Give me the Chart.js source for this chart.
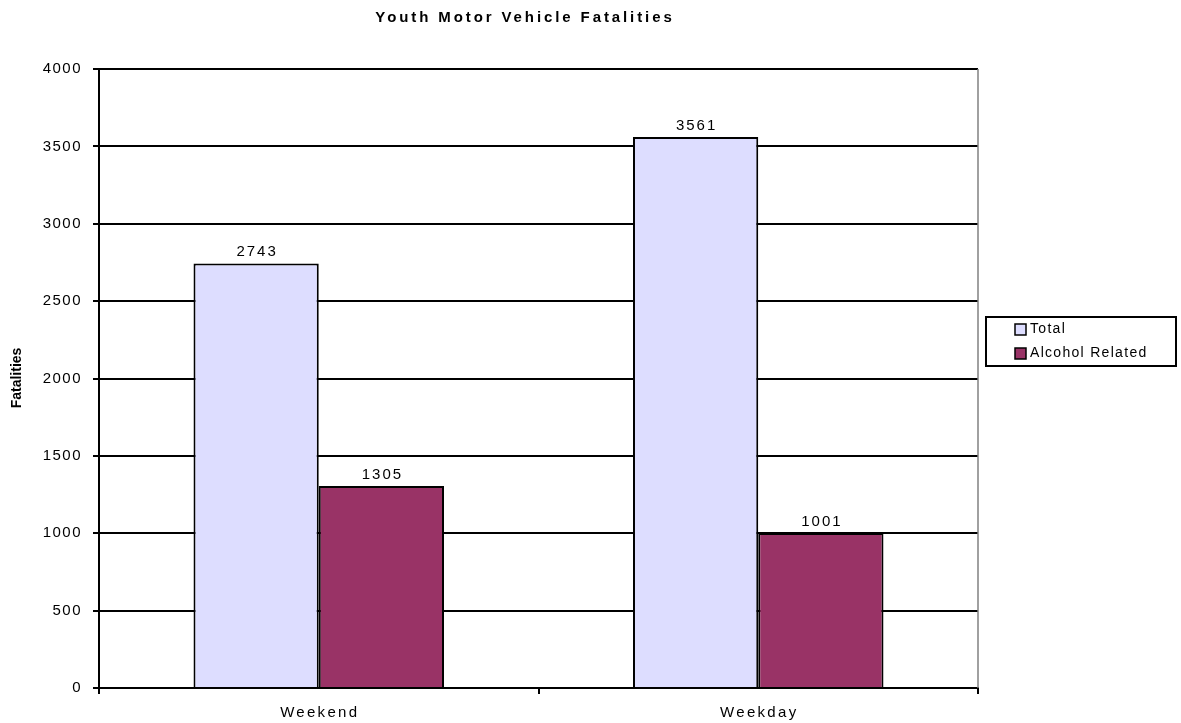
<!DOCTYPE html>
<html>
<head>
<meta charset="utf-8">
<script src="https://cdn.jsdelivr.net/npm/chart.js@4.4.1/dist/chart.umd.min.js"></script>
<style>
  html, body { margin: 0; padding: 0; background: #fff; }
  #wrap { width: 1181px; height: 723px; }
</style>
</head>
<body>
<div id="wrap"><canvas id="myChart" width="1181" height="723"></canvas></div>
<script>
const categories = ['Weekend', 'Weekday'];
const totalValues = [2743, 3561];
const alcoholValues = [1305, 1001];
const seriesNames = ['Total', 'Alcohol Related'];
const seriesColors = ['rgb(221,221,255)', 'rgb(153,51,102)'];
const yTicks = [0, 500, 1000, 1500, 2000, 2500, 3000, 3500, 4000];

const FONT = '"Liberation Sans", Arial, sans-serif';

// title, axis title, category labels, bar values, grey frame and boxed legend
const extras = {
    id: 'extras',
    beforeDraw(chart) {
        chart.ctx.letterSpacing = '1.5px';
    },
    afterDatasetsDraw(chart) {
        const ctx = chart.ctx;
        ctx.save();
        ctx.letterSpacing = '2px';
        ctx.font = '15px ' + FONT;
        ctx.fillStyle = '#000';
        ctx.textAlign = 'center';
        ctx.textBaseline = 'bottom';
        chart.data.datasets.forEach((ds, i) => {
            chart.getDatasetMeta(i).data.forEach((bar, j) => {
                ctx.fillText(String(ds.data[j]), bar.x + 1, bar.y - 4);
            });
        });
        ctx.restore();
    },
    afterDraw(chart) {
        const ctx = chart.ctx;
        const a = chart.chartArea;
        const xs = chart.scales.x;
        ctx.save();
        // grey right edge of plot
        ctx.strokeStyle = '#808080';
        ctx.lineWidth = 1.5;
        ctx.beginPath();
        ctx.moveTo(a.right, a.top);
        ctx.lineTo(a.right, a.bottom);
        ctx.stroke();

        // category labels
        ctx.letterSpacing = '2.3px';
        ctx.font = '15px ' + FONT;
        ctx.fillStyle = '#000';
        ctx.textAlign = 'center';
        ctx.textBaseline = 'middle';
        categories.forEach((c, i) => {
            ctx.fillText(c, xs.getPixelForValue(i) + 1, 713);
        });

        // title
        ctx.letterSpacing = '2.9px';
        ctx.font = 'bold 15px ' + FONT;
        ctx.fillText('Youth Motor Vehicle Fatalities', 525, 18);

        // y axis title
        ctx.save();
        ctx.letterSpacing = '0px';
        ctx.font = 'bold 14px ' + FONT;
        ctx.translate(17, 378);
        ctx.rotate(-Math.PI / 2);
        ctx.fillText('Fatalities', 0, 0);
        ctx.restore();

        // legend
        const lx = 986, ly = 317, lw = 190, lh = 49;
        ctx.lineWidth = 2;
        ctx.strokeStyle = '#000';
        ctx.strokeRect(lx, ly, lw, lh);
        ctx.letterSpacing = '1.3px';
        ctx.font = '14px ' + FONT;
        ctx.textAlign = 'left';
        seriesNames.forEach((name, i) => {
            const cy = 329 + i * 24;
            ctx.fillStyle = seriesColors[i];
            ctx.fillRect(1015, cy - 5, 11, 11);
            ctx.lineWidth = 1.5;
            ctx.strokeRect(1015, cy - 5, 11, 11);
            ctx.fillStyle = '#000';
            ctx.fillText(name, 1030, cy);
        });
        ctx.restore();
    }
};

const config = {
    type: 'bar',
    data: {
        labels: categories,
        datasets: [
            {
                label: seriesNames[0],
                data: totalValues,
                backgroundColor: seriesColors[0],
                borderColor: '#000',
                borderWidth: 2
            },
            {
                label: seriesNames[1],
                data: alcoholValues,
                backgroundColor: seriesColors[1],
                borderColor: '#000',
                borderWidth: 2
            }
        ]
    },
    options: {
        responsive: false,
        animation: false,
        layout: { padding: { top: 69, right: 203, left: 0, bottom: 0 } },
        categoryPercentage: 0.57,
        barPercentage: 1.0,
        scales: {
            x: {
                afterFit: s => { s.height = 35; },
                grid: {
                    offset: true,
                    drawOnChartArea: false,
                    drawTicks: true,
                    tickLength: 6,
                    color: '#000',
                    lineWidth: 2
                },
                border: { color: '#000', width: 2 },
                ticks: { display: false }
            },
            y: {
                min: 0,
                max: 4000,
                afterFit: s => { s.width = 99; },
                afterBuildTicks: s => { s.ticks = yTicks.map(v => ({ value: v })); },
                grid: {
                    color: c => (c.tick && c.tick.value === 4000 && c.type !== 'tick') ? '#808080' : '#000',
                    tickColor: '#000',
                    lineWidth: 2,
                    tickLength: 6
                },
                border: { color: '#000', width: 2 },
                ticks: {
                    color: '#000',
                    padding: 11,
                    font: { family: FONT, size: 15 },
                    callback: v => String(v)
                }
            }
        },
        plugins: {
            legend: { display: false },
            title: { display: false },
            tooltip: { enabled: false }
        }
    },
    plugins: [extras]
};

const myChart = new Chart(document.getElementById('myChart'), config);
</script>
</body>
</html>
